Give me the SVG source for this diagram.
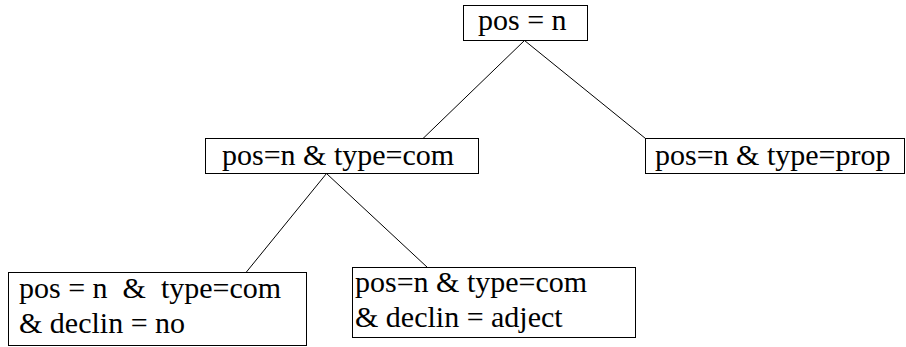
<svg xmlns="http://www.w3.org/2000/svg" width="906" height="347" viewBox="0 0 906 347">
<style>
.box{fill:#fff;stroke:#000;stroke-width:1}
.c{stroke:#000;stroke-width:1;fill:none}
text{font-family:'Liberation Serif','Times New Roman',Times,serif;font-size:30px;fill:#000}
</style>
<rect width="906" height="347" fill="#fff"/>
<g id="connectors">
<line class="c" x1="524.5" y1="40.5" x2="423" y2="138.5"/>
<line class="c" x1="524.5" y1="40.5" x2="645.5" y2="138.5"/>
<line class="c" x1="326.5" y1="173.5" x2="246" y2="272.5"/>
<line class="c" x1="326.5" y1="173.5" x2="427.5" y2="267.5"/>
</g>
<g id="n1">
<rect class="box" x="463.5" y="5.5" width="124" height="35"/>
<text x="478" y="30" font-family="Liberation Serif, serif">pos = n</text>
</g>
<g id="n2">
<rect class="box" x="205.5" y="138.5" width="273" height="35"/>
<text x="222" y="165">pos=n &amp; type=com</text>
</g>
<g id="n3">
<rect class="box" x="645.5" y="138.5" width="259" height="35"/>
<text x="655" y="165">pos=n &amp; type=prop</text>
</g>
<g id="n4">
<rect class="box" x="8.5" y="272.5" width="298" height="73"/>
<text x="19" y="298" xml:space="preserve">pos = n  &amp;  type=com</text>
<text x="19" y="333">&amp; declin = no</text>
</g>
<g id="n5">
<rect class="box" x="352.5" y="267.5" width="283" height="70"/>
<text x="355" y="292">pos=n &amp; type=com</text>
<text x="355" y="327">&amp; declin = adject</text>
</g>
</svg>
